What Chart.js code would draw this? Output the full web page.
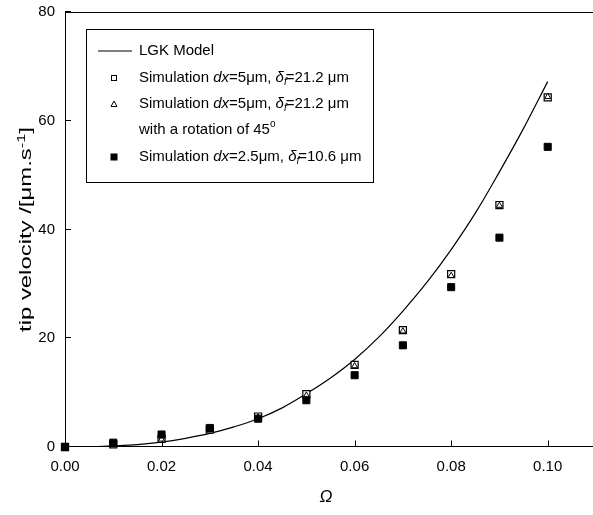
<!DOCTYPE html>
<html>
<head>
<meta charset="utf-8">
<script src="https://cdn.jsdelivr.net/npm/chart.js@4.4.1/dist/chart.umd.min.js"></script>
<style>
  html, body { margin: 0; padding: 0; background: #fff; }
  #wrap { width: 593px; height: 515px; }
</style>
</head>
<body>
<div id="wrap"><canvas id="tipChart" width="593" height="515"></canvas></div>
<script>
// datos
const omega = [0, 0.01, 0.02, 0.03, 0.04, 0.05, 0.06, 0.07, 0.08, 0.09, 0.10];
const simDx5 = [0, 0.5, 1.5, 3.2, 5.6, 9.7, 15.1, 21.5, 31.8, 44.5, 64.3];
const simDx5Rot = [0, 0.5, 1.4, 3.1, 5.5, 9.5, 14.9, 21.3, 31.5, 44.4, 64.4];
const simDx25 = [0, 0.8, 2.3, 3.5, 5.2, 8.6, 13.2, 18.7, 29.4, 38.5, 55.2];

// curva del modelo LGK
const modelOmega = [0, 0.005, 0.01, 0.015, 0.02, 0.025, 0.03, 0.035, 0.04, 0.045, 0.05,
                    0.055, 0.06, 0.065, 0.07, 0.075, 0.08, 0.085, 0.09, 0.095, 0.10];
const modelVel = [0, 0.02, 0.2, 0.45, 0.9, 1.6, 2.5, 3.7, 5.2, 7.2, 9.8,
                  12.7, 16.1, 20.2, 25.0, 30.3, 36.3, 43.0, 50.6, 58.6, 67.2];

const xTicks = [0, 0.02, 0.04, 0.06, 0.08, 0.10];
const yTicks = [0, 20, 40, 60, 80];

const FONT = "'Liberation Sans', Arial, sans-serif";

function pares(xs, ys) {
    return xs.map((x, i) => ({ x: x, y: ys[i] }));
}

// leyenda con cursivas y subindices
const legendRows = [
    { mark: 'line', runs: [{ t: 'LGK Model' }] },
    { mark: 'openSquare', runs: [{ t: 'Simulation ' }, { t: 'dx', it: true }, { t: '=5\u03bcm, ' }, { t: '\u03b4', it: true }, { t: 'f', it: true, sub: true }, { t: '=21.2 \u03bcm' }] },
    { mark: 'triangle', runs: [{ t: 'Simulation ' }, { t: 'dx', it: true }, { t: '=5\u03bcm, ' }, { t: '\u03b4', it: true }, { t: 'f', it: true, sub: true }, { t: '=21.2 \u03bcm' }] },
    { mark: null, runs: [{ t: 'with a rotation of 45' }, { t: 'o', sup: true }] },
    { mark: 'filledSquare', runs: [{ t: 'Simulation ' }, { t: 'dx', it: true }, { t: '=2.5\u03bcm, ' }, { t: '\u03b4', it: true }, { t: 'f', it: true, sub: true }, { t: '=10.6 \u03bcm' }] }
];

const yTitleRuns = [{ t: 'tip velocity /[\u03bcm.s' }, { t: '-1', sup: true }, { t: ']' }];

function runFont(r, base) {
    const size = (r.sub || r.sup) ? Math.round(base * 0.66) : base;
    return (r.it ? 'italic ' : '') + size + 'px ' + FONT;
}

function runsWidth(ctx, runs, base) {
    let w = 0;
    runs.forEach(r => {
        ctx.font = runFont(r, base);
        w += ctx.measureText(r.t).width - (r.sub ? 1 : 0);
    });
    return w;
}

function drawRuns(ctx, runs, x, y, base) {
    ctx.textAlign = 'left';
    runs.forEach(r => {
        ctx.font = runFont(r, base);
        let dy = 0;
        if (r.sub) dy = base * 0.27;
        if (r.sup) dy = -base * 0.4;
        ctx.fillText(r.t, x, y + dy);
        x += ctx.measureText(r.t).width - (r.sub ? 1 : 0);
    });
}

function drawMark(ctx, mark, x, y) {
    ctx.save();
    ctx.strokeStyle = '#000';
    ctx.fillStyle = '#000';
    ctx.lineWidth = 1;
    if (mark === 'line') {
        ctx.beginPath();
        ctx.moveTo(x - 16, y);
        ctx.lineTo(x + 18, y);
        ctx.stroke();
    } else if (mark === 'openSquare') {
        ctx.strokeRect(x - 2.5, y - 2.5, 5, 5);
    } else if (mark === 'triangle') {
        ctx.beginPath();
        ctx.moveTo(x, y - 3);
        ctx.lineTo(x + 3, y + 2.5);
        ctx.lineTo(x - 3, y + 2.5);
        ctx.closePath();
        ctx.stroke();
    } else if (mark === 'filledSquare') {
        ctx.fillRect(x - 3.5, y - 3.5, 7, 7);
    }
    ctx.restore();
}

const ejesPlugin = {
    id: 'ejesPlugin',
    afterDraw(chart) {
        const ctx = chart.ctx;
        const area = chart.chartArea;
        const sx = chart.scales.x;
        const sy = chart.scales.y;
        const yBase = Math.round(area.bottom) - 0.5;
        ctx.save();
        ctx.strokeStyle = '#000';
        ctx.lineWidth = 1;
        // linea superior del marco y eje X hasta el borde del lienzo
        ctx.beginPath();
        ctx.moveTo(area.left, Math.round(area.top) + 0.5);
        ctx.lineTo(chart.width, Math.round(area.top) + 0.5);
        ctx.moveTo(area.left, yBase);
        ctx.lineTo(chart.width, yBase);
        ctx.stroke();
        // marcas hacia dentro
        ctx.beginPath();
        xTicks.forEach(v => {
            const px = Math.round(sx.getPixelForValue(v)) + 0.5;
            ctx.moveTo(px, yBase);
            ctx.lineTo(px, yBase - 6);
        });
        yTicks.forEach(v => {
            const py = Math.round(sy.getPixelForValue(v)) - 0.5;
            ctx.moveTo(area.left, py);
            ctx.lineTo(area.left + 6, py);
        });
        ctx.stroke();

        // titulo del eje Y (estirado a lo largo como en la figura)
        ctx.fillStyle = '#000';
        ctx.textBaseline = 'alphabetic';
        const base = 16;
        const w = runsWidth(ctx, yTitleRuns, base);
        const stretch = 205 / w;
        ctx.save();
        ctx.translate(31, (area.top + area.bottom) / 2);
        ctx.rotate(-Math.PI / 2);
        ctx.scale(stretch, 1);
        drawRuns(ctx, yTitleRuns, -w / 2, 0, base);
        ctx.restore();

        // caja de la leyenda
        ctx.fillStyle = '#fff';
        ctx.fillRect(86.5, 29.5, 287, 153);
        ctx.strokeRect(86.5, 29.5, 287, 153);
        ctx.fillStyle = '#000';
        ctx.textBaseline = 'middle';
        const rowsY = [51, 78, 104, 130, 157];
        legendRows.forEach((row, i) => {
            if (row.mark) drawMark(ctx, row.mark, 114, rowsY[i]);
            drawRuns(ctx, row.runs, 139, rowsY[i], 15);
        });
        ctx.restore();
    }
};

const ctxTip = document.getElementById('tipChart').getContext('2d');

new Chart(ctxTip, {
    type: 'scatter',
    data: {
        datasets: [
            {
                label: 'LGK Model',
                data: pares(modelOmega, modelVel),
                showLine: true,
                borderColor: '#000',
                borderWidth: 1.2,
                pointRadius: 0,
                tension: 0.4,
                fill: false,
                order: 4
            },
            {
                label: 'Simulation dx=2.5\u03bcm',
                data: pares(omega, simDx25),
                pointStyle: 'rect',
                pointRadius: 5,
                backgroundColor: '#000',
                borderColor: '#000',
                borderWidth: 1,
                clip: false,
                order: 0
            },
            {
                label: 'Simulation dx=5\u03bcm',
                data: pares(omega, simDx5),
                pointStyle: 'rect',
                pointRadius: 5,
                backgroundColor: '#fff',
                borderColor: '#000',
                borderWidth: 1.2,
                clip: false,
                order: 2
            },
            {
                label: 'Simulation dx=5\u03bcm rot 45',
                data: pares(omega, simDx5Rot),
                pointStyle: 'triangle',
                pointRadius: 3.5,
                backgroundColor: '#fff',
                borderColor: '#000',
                borderWidth: 1,
                clip: false,
                order: 1
            }
        ]
    },
    options: {
        responsive: false,
        animation: false,
        devicePixelRatio: 1,
        layout: { padding: { top: 12, right: 0, left: 0, bottom: 0 } },
        plugins: {
            legend: { display: false },
            tooltip: { enabled: false }
        },
        scales: {
            x: {
                type: 'linear',
                min: 0,
                max: 0.1081,
                afterFit: function (scale) {
                    scale.height = 68;
                },
                afterBuildTicks: function (scale) {
                    scale.ticks = xTicks.map(v => ({ value: v }));
                },
                grid: { display: false, drawTicks: false },
                border: { display: false },
                ticks: {
                    color: '#000',
                    padding: 11,
                    font: { family: FONT, size: 15 },
                    callback: function (value) { return value.toFixed(2); }
                },
                title: {
                    display: true,
                    text: '\u03a9',
                    color: '#000',
                    font: { family: FONT, size: 17, style: 'italic' },
                    padding: { top: 0, bottom: 8 }
                }
            },
            y: {
                min: 0,
                max: 80,
                afterFit: function (scale) {
                    scale.width = 65;
                    scale.paddingTop = 0;
                    scale.paddingBottom = 0;
                },
                afterBuildTicks: function (scale) {
                    scale.ticks = yTicks.map(v => ({ value: v }));
                },
                grid: { display: false, drawTicks: false },
                border: { display: true, color: '#000', width: 1 },
                ticks: {
                    color: '#000',
                    padding: 10,
                    font: { family: FONT, size: 15 }
                },
                title: { display: false }
            }
        }
    },
    plugins: [ejesPlugin]
});
</script>
</body>
</html>
